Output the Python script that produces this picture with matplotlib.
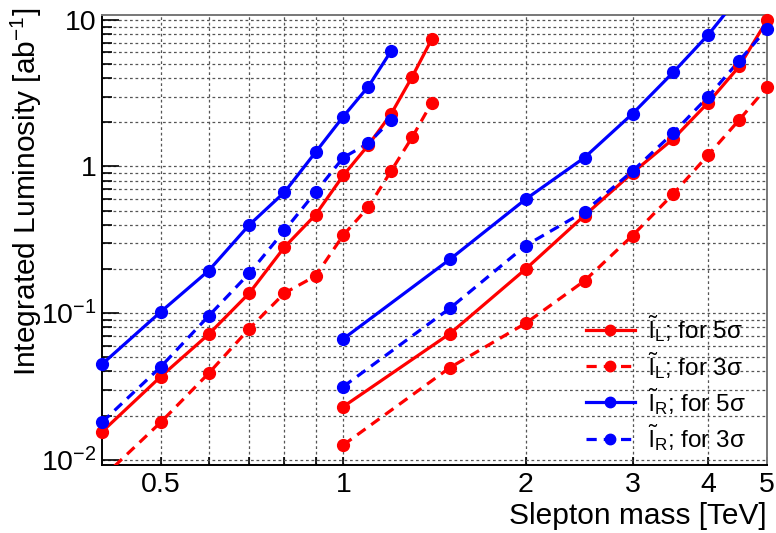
import numpy as np
import matplotlib
matplotlib.use("Agg")
import matplotlib.pyplot as plt
from matplotlib.ticker import FixedLocator, NullFormatter, LogLocator

plt.rcParams["font.family"] = ["Liberation Sans", "DejaVu Sans"]
plt.rcParams["mathtext.fontset"] = "custom"
plt.rcParams["mathtext.rm"] = "Liberation Sans"
plt.rcParams["mathtext.it"] = "Liberation Sans:italic"

# slepton mass points [TeV]
mass_low  = [0.4, 0.5, 0.6, 0.7, 0.8, 0.9, 1.0, 1.1, 1.2, 1.3, 1.4]
mass_low_r = [0.4, 0.5, 0.6, 0.7, 0.8, 0.9, 1.0, 1.1, 1.2]
mass_high = [1.0, 1.5, 2.0, 2.5, 3.0, 3.5, 4.0, 4.5, 5.0]
mass_high_r5 = [1.0, 1.5, 2.0, 2.5, 3.0, 3.5, 4.0, 4.5]

# integrated luminosity [ab^-1]
lumi_L5_low  = [0.0155, 0.0369, 0.0718, 0.137, 0.282, 0.468, 0.869, 1.40, 2.29, 4.11, 7.41]
lumi_L3_low  = [0.0075, 0.018, 0.0389, 0.0784, 0.137, 0.179, 0.340, 0.528, 0.935, 1.59, 2.73]
lumi_R5_low  = [0.0448, 0.102, 0.195, 0.40, 0.668, 1.25, 2.19, 3.51, 6.16]
lumi_R3_low  = [0.018, 0.043, 0.0957, 0.187, 0.366, 0.668, 1.15, 1.44, 2.08]

lumi_L5_high = [0.023, 0.0725, 0.20, 0.463, 0.906, 1.54, 2.73, 4.82, 9.93]
lumi_L3_high = [0.0126, 0.0425, 0.0853, 0.166, 0.338, 0.648, 1.20, 2.08, 3.48]
lumi_R5_high = [0.0667, 0.233, 0.599, 1.15, 2.29, 4.38, 7.92, 14.5]
lumi_R3_high = [0.0315, 0.108, 0.289, 0.493, 0.93, 1.69, 3.0, 5.27, 8.71]

x_ticks = [0.5, 1, 2, 3, 4, 5]
x_ticklabels = ["0.5", "1", "2", "3", "4", "5"]
x_minor = [0.6, 0.7, 0.8, 0.9]
y_ticks = [0.01, 0.1, 1, 10]
y_ticklabels = [r"$10^{-2}$", r"$10^{-1}$", "1", "10"]

XLIM = (0.4, 5.0)
YLIM = (0.0092, 10.8)

LEGEND_LABELS = [
    r"$\tilde{\mathrm{l}}_{\mathrm{L}}$; for 5σ",
    r"$\tilde{\mathrm{l}}_{\mathrm{L}}$; for 3σ",
    r"$\tilde{\mathrm{l}}_{\mathrm{R}}$; for 5σ",
    r"$\tilde{\mathrm{l}}_{\mathrm{R}}$; for 3σ",
]

RED = "#ff0000"
BLUE = "#0000ff"
DASH = (0, (3.2, 2.2))

fig = plt.figure(figsize=(7.76, 5.33), dpi=100)
ax = fig.add_axes([102 / 776, 1 - 465 / 533, 665 / 776, 450 / 533])

series = [
    (mass_low, lumi_L5_low, RED, "-", 0),
    (mass_high, lumi_L5_high, RED, "-", None),
    (mass_low, lumi_L3_low, RED, DASH, 1),
    (mass_high, lumi_L3_high, RED, DASH, None),
    (mass_low_r, lumi_R5_low, BLUE, "-", 2),
    (mass_high_r5, lumi_R5_high, BLUE, "-", None),
    (mass_low_r, lumi_R3_low, BLUE, DASH, 3),
    (mass_high, lumi_R3_high, BLUE, DASH, None),
]

handles = [None] * 4
for xs, ys, col, ls, leg in series:
    xs = np.asarray(xs)
    ys = np.asarray(ys)
    ax.plot(xs, ys, color=col, linestyle=ls, linewidth=2.3, zorder=3)
    # markers sitting on the frame are not clipped, like the original
    inside = (ys >= YLIM[0]) & (ys <= YLIM[1])
    ax.plot(xs[inside], ys[inside], linestyle="none", marker="o",
            markersize=8.5, color=col, clip_on=False, zorder=4)
    if leg is not None:
        handles[leg] = plt.Line2D([], [], color=col, linestyle=ls,
                                  linewidth=2.3, marker="o", markersize=7.5)

ax.set_xscale("log")
ax.set_yscale("log")
ax.set_xlim(*XLIM)
ax.set_ylim(*YLIM)

ax.xaxis.set_major_locator(FixedLocator(x_ticks))
ax.set_xticklabels(x_ticklabels)
ax.xaxis.set_minor_locator(FixedLocator(x_minor))
ax.xaxis.set_minor_formatter(NullFormatter())
ax.yaxis.set_major_locator(FixedLocator(y_ticks))
ax.set_yticklabels(y_ticklabels)
ax.yaxis.set_minor_locator(LogLocator(base=10, subs=np.arange(2, 10), numticks=20))
ax.yaxis.set_minor_formatter(NullFormatter())

ax.tick_params(axis="both", which="both", direction="in", labelsize=20.5,
               color="black", width=1.2, top=False, right=False)
ax.tick_params(axis="x", which="both", length=6, pad=5)
ax.tick_params(axis="y", which="major", length=12, pad=4)
ax.tick_params(axis="y", which="minor", length=7)

ax.grid(True, which="both", color="#555555", linestyle=(0, (2.2, 2.2)),
        linewidth=0.9, zorder=0)
ax.set_axisbelow(True)

for side in ("left", "bottom"):
    ax.spines[side].set_color("black")
    ax.spines[side].set_linewidth(1.4)
for side in ("top", "right"):
    ax.spines[side].set_color("#777777")
    ax.spines[side].set_linewidth(1.4)

ax.set_xlabel("Slepton mass [TeV]", fontsize=21.5, loc="right", labelpad=3)
ax.set_ylabel(r"Integrated Luminosity [ab$^{-1}$]", fontsize=21.5, loc="top")
ax.yaxis.set_label_coords(-0.087, 1.016, transform=ax.transAxes)

ax.legend(handles, LEGEND_LABELS, loc="upper left", frameon=False,
          fontsize=17.5, handlelength=2.0, labelspacing=0.22,
          handletextpad=0.55, borderpad=0, borderaxespad=0,
          bbox_to_anchor=(0.728, 0.337))

fig.savefig("out.png", dpi=100)
